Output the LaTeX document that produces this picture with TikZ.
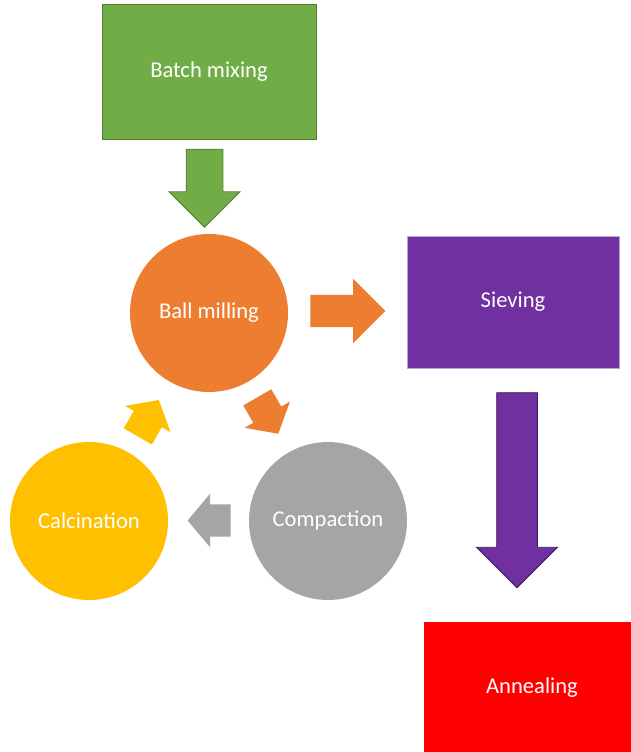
\documentclass[tikz,border=0pt]{standalone}
\usepackage{fontspec}
\setmainfont{Carlito}
\usepackage{tikz}
\usetikzlibrary{shapes.geometric, shapes.arrows, positioning, calc}
\newcommand{\stagefont}{\fontsize{22.6pt}{27pt}\selectfont}
\tikzset{
  stage/.style={rectangle,inner sep=0pt,text=white,font=\stagefont},
  phase/.style={circle,minimum size=158pt,inner sep=0pt,text=white,font=\stagefont},
  flow/.style={single arrow,inner xsep=0pt,inner ysep=16pt,anchor=tail,single arrow head extend=10pt,single arrow tip angle=100,minimum width=52pt,minimum height=42pt},
  flowxl/.style={flow,single arrow tip angle=90},
  edge_line/.style={line width=.75pt},
}
\definecolor{mix_green}{HTML}{70AD47}
\definecolor{mix_greenline}{HTML}{507E32}
\definecolor{mill_orange}{HTML}{ED7D31}
\definecolor{sieve_purple}{HTML}{7030A0}
\definecolor{sieve_line}{HTML}{3C1A5A}
\definecolor{calc_yellow}{HTML}{FFC000}
\definecolor{comp_gray}{HTML}{A5A5A5}
\definecolor{anneal_red}{HTML}{FF0000}

\begin{document}
\begin{tikzpicture}[x=1pt,y=1pt]
	    \useasboundingbox (0,0) rectangle (631,752);
	    \clip (0,0) rectangle (631,752);
	    \node[stage,edge_line,fill=mix_green,draw=mix_greenline,minimum width=214pt,minimum height=135pt] (batch) at (209,680) {Batch mixing};
	    \node[phase,fill=mill_orange] (ball) at (209,439) {Ball milling};
	    \node[stage,edge_line,fill=sieve_purple,draw=sieve_purple!45!white,minimum width=212pt,minimum height=132pt] (sieve) at (513,450) {Sieving};
	    \node[phase,fill=comp_gray] (compact) at (328,231) {Compaction};
	    \node[phase,fill=calc_yellow] (calc) at (89,231) {Calcination};
	    \node[stage,fill=anneal_red,minimum width=216pt,minimum height=132pt] (anneal) at (532,64) {Annealing};
	    % block arrows between the stages
	    \node[flowxl,edge_line,fill=mix_green,draw=mix_greenline,rotate=-90,inner ysep=18pt,minimum width=70pt,minimum height=78pt,single arrow head extend=17pt] (f1) at ($(batch.south)+(-4.5,-9)$) {};
	    \node[flowxl,fill=mill_orange,minimum width=64pt,minimum height=75pt,single arrow head extend=16pt] (f2) at ($(ball.east)+(22,2)$) {};
	    \node[flowxl,edge_line,fill=sieve_purple,draw=sieve_line,rotate=-90,inner ysep=20pt,minimum width=80pt,minimum height=195pt,single arrow head extend=20pt] (f3) at ($(sieve.south)+(4,-24)$) {};
	    \node[flow,fill=mill_orange,rotate=-60] (f4) at ($(ball)!97pt!(compact)$) {};
	    \node[flow,fill=comp_gray,rotate=180,minimum width=53pt,minimum height=43pt,single arrow head extend=10.5pt] (f5) at ($(compact.west)+(-18,0.5)$) {};
	    \node[flow,fill=calc_yellow,rotate=60] (f6) at ($(calc)!97.5pt!(ball)$) {};
	\end{tikzpicture}
\end{document}
